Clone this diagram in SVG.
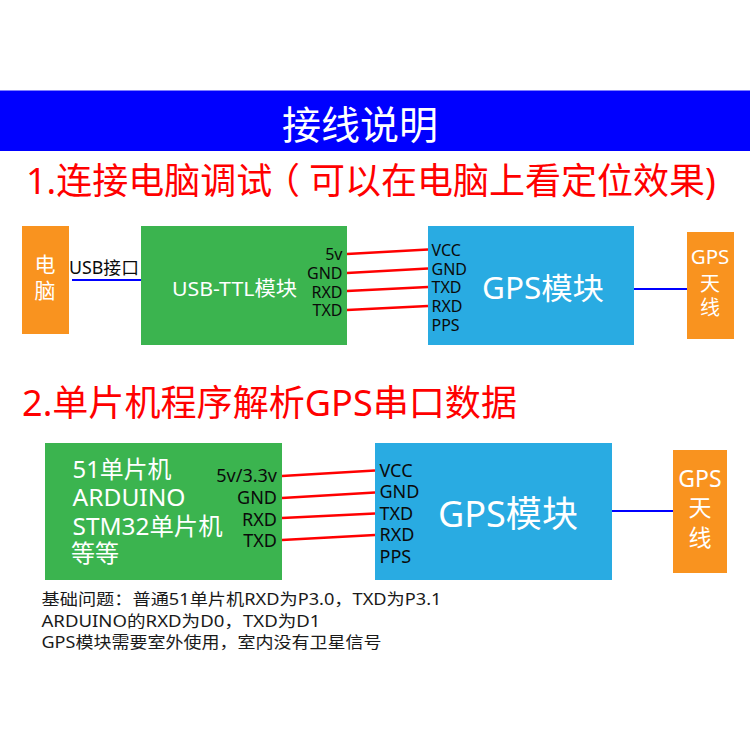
<svg xmlns="http://www.w3.org/2000/svg" width="750" height="750" viewBox="0 0 750 750">
<style>
text{font-family:"Noto Sans","Noto Sans CJK SC",sans-serif;}
.w{fill:#fff;}
.k{fill:#0a0a0a;}
.r{fill:#ff0000;font-size:36px;}
.m{text-anchor:middle;}
.e{text-anchor:end;}
.org{fill:#f9931f;}
.grn{fill:#3bb44f;}
.blu{fill:#29abe2;}
.red{stroke:#ff0000;stroke-width:2.4;fill:none;}
.bl{stroke:#0000ff;stroke-width:2;fill:none;}
</style>
<rect width="750" height="750" fill="#fff"/>
<g id="banner"><rect x="0" y="90.500" width="750" height="60.500" fill="#0000ff"/>
<text class="w m" x="360" y="139" font-size="39">接线说明</text></g>
<text id="title1" class="r" y="194"><tspan x="26">1.连接电脑调试</tspan><tspan x="264">（</tspan><tspan x="309">可以在电脑上看定位效果)</tspan></text>
<text id="title2" class="r" x="22" y="416" textLength="495" lengthAdjust="spacingAndGlyphs">2.单片机程序解析GPS串口数据</text>
<g id="connectors">
<path class="bl" d="M72 280H141M634 289H687M612 511H673"/>
<path class="red" d="M347 254L428 249.500M347 273L428 268.500M347 291L428 287M347 310L428 306"/>
<path class="red" d="M282 476L375 470.500M282 498L375 492.500M282 518L375 513.500M282 540L375 535"/>
</g>
<g id="pc"><rect class="org" x="22" y="226" width="47" height="108"/>
<text class="w m" x="45" y="272" font-size="21">电</text><text class="w m" x="45" y="298" font-size="21">脑</text></g>
<text id="usb-label" class="k" x="69" y="274" font-size="17.500" textLength="70" lengthAdjust="spacingAndGlyphs">USB接口</text>
<g id="usb-ttl"><rect class="grn" x="141" y="226" width="206" height="119"/>
<text class="w" x="172" y="296" font-size="20" textLength="125" lengthAdjust="spacingAndGlyphs">USB-TTL模块</text>
<g class="k" font-size="16"><text class="e" x="342.500" y="260">5v</text><text class="e" x="342.500" y="279">GND</text><text class="e" x="342.500" y="298">RXD</text><text class="e" x="342.500" y="316">TXD</text></g></g>
<g id="gps1"><rect class="blu" x="428" y="226" width="206" height="119"/>
<g class="k" font-size="16"><text x="431.500" y="255.500">VCC</text><text x="431.500" y="274.500">GND</text><text x="431.500" y="293">TXD</text><text x="431.500" y="311.500">RXD</text><text x="431.500" y="331">PPS</text></g>
<text class="w" x="482" y="299" font-size="30" textLength="122" lengthAdjust="spacingAndGlyphs">GPS模块</text></g>
<g id="antenna1"><rect class="org" x="687" y="232" width="47" height="107"/>
<text class="w m" x="710" y="264" font-size="20.500">GPS</text><text class="w m" x="710" y="291" font-size="20">天</text><text class="w m" x="710" y="315" font-size="20">线</text></g>
<g id="mcu"><rect class="grn" x="45" y="443" width="237" height="137"/>
<g class="w" font-size="24"><text x="72.500" y="478" textLength="99" lengthAdjust="spacingAndGlyphs">51单片机</text><text x="72.500" y="506" textLength="113" lengthAdjust="spacingAndGlyphs">ARDUINO</text><text x="72.500" y="535" textLength="150" lengthAdjust="spacingAndGlyphs">STM32单片机</text><text x="71" y="562">等等</text></g>
<g class="k" font-size="18"><text class="e" x="277" y="482">5v/3.3v</text><text class="e" x="277" y="504">GND</text><text class="e" x="277" y="526">RXD</text><text class="e" x="277" y="547">TXD</text></g></g>
<g id="gps2"><rect class="blu" x="375" y="443" width="237" height="137"/>
<g class="k" font-size="18"><text x="379.500" y="477">VCC</text><text x="379.500" y="498">GND</text><text x="379.500" y="520">TXD</text><text x="379.500" y="541">RXD</text><text x="379.500" y="563">PPS</text></g>
<text class="w" x="438" y="527" font-size="36" textLength="140" lengthAdjust="spacingAndGlyphs">GPS模块</text></g>
<g id="antenna2"><rect class="org" x="673" y="450" width="54" height="123"/>
<text class="w m" x="700" y="487" font-size="23">GPS</text><text class="w m" x="700" y="516" font-size="23">天</text><text class="w m" x="700" y="546" font-size="23">线</text></g>
<g id="notes" fill="#1a1a1a" font-size="16">
<text x="41.500" y="605" textLength="400" lengthAdjust="spacingAndGlyphs">基础问题：普通51单片机RXD为P3.0，TXD为P3.1</text>
<text x="41.500" y="626.500" textLength="279" lengthAdjust="spacingAndGlyphs">ARDUINO的RXD为D0，TXD为D1</text>
<text x="41.500" y="648" textLength="340" lengthAdjust="spacingAndGlyphs">GPS模块需要室外使用，室内没有卫星信号</text>
</g>
</svg>
